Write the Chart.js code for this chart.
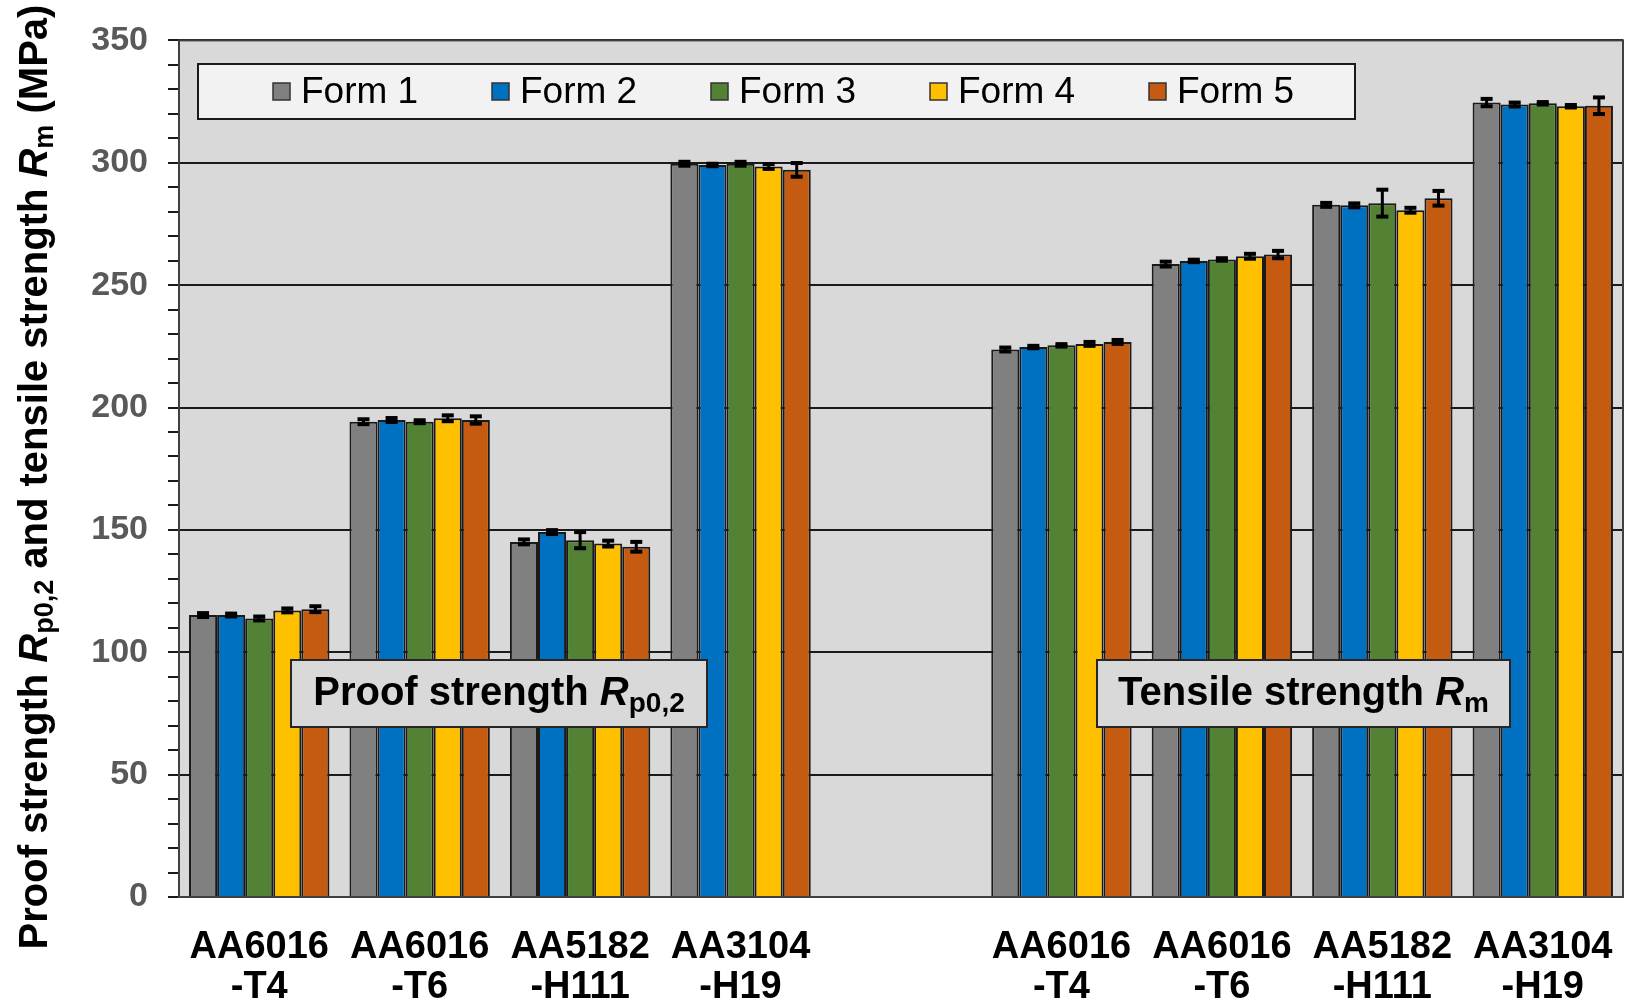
<!DOCTYPE html>
<html>
<head>
<meta charset="utf-8">
<title>Proof and tensile strength</title>
<script src="https://cdn.jsdelivr.net/npm/chart.js@4/dist/chart.umd.min.js"></script>
<style>
  body { margin: 0; background: #fff; }
  #chart-container { width: 1626px; height: 1003px; position: relative; }
</style>
</head>
<body>
<div id="chart-container">
  <canvas id="strength-chart"></canvas>
</div>
<script>
// alloys, proof strength block first, then a blank slot, then tensile strength block
const categories = [
  ['AA6016', '-T4'], ['AA6016', '-T6'], ['AA5182', '-H111'], ['AA3104', '-H19'],
  '',
  ['AA6016', '-T4'], ['AA6016', '-T6'], ['AA5182', '-H111'], ['AA3104', '-H19']
];

const seriesNames = ['Form 1', 'Form 2', 'Form 3', 'Form 4', 'Form 5'];

const form1 = [115.2, 194.2, 145.1, 299.6, null, 223.7, 258.6, 282.8, 324.6];
const form2 = [115.2, 194.9, 149.1, 299.1, null, 224.7, 259.9, 282.6, 323.8];
const form3 = [113.8, 194.2, 145.8, 299.6, null, 225.4, 260.5, 283.5, 324.3];
const form4 = [117.1, 195.6, 144.4, 298.5, null, 226.0, 261.8, 280.6, 323.1];
const form5 = [117.6, 194.9, 143.1, 297.1, null, 226.8, 262.5, 285.5, 323.3];

// standard deviation (+/-) per bar
const form1Err = [0.8, 1.0, 1.0, 0.8, null, 0.8, 1.0, 0.8, 1.5];
const form2Err = [0.6, 0.8, 0.8, 0.5, null, 0.5, 0.5, 0.8, 0.8];
const form3Err = [0.8, 0.6, 3.3, 0.8, null, 0.5, 0.5, 5.5, 0.5];
const form4Err = [0.8, 1.2, 1.2, 1.0, null, 0.8, 1.0, 1.0, 0.5];
const form5Err = [1.2, 1.5, 2.0, 2.8, null, 0.8, 1.5, 3.0, 3.4];

const yTicks = [0, 50, 100, 150, 200, 250, 300, 350];

const colors = ['#808080', '#0070c0', '#548235', '#ffc000', '#c55a11'];
const FONT = '"Liberation Sans", Arial, sans-serif';
const DARK = '#1a1a1a';

const values = [form1, form2, form3, form4, form5];
const errors = [form1Err, form2Err, form3Err, form4Err, form5Err];

// draws a run of text pieces (font, text, vertical shift) starting at x
function drawRich(ctx, parts, x, y) {
  let cx = x;
  parts.forEach(p => {
    ctx.font = p.font;
    ctx.fillText(p.text, cx, y + (p.dy || 0));
    cx += ctx.measureText(p.text).width;
  });
  return cx - x;
}

function richWidth(ctx, parts) {
  let w = 0;
  parts.forEach(p => {
    ctx.font = p.font;
    w += ctx.measureText(p.text).width;
  });
  return w;
}

const plotBackground = {
  id: 'plotBackground',
  beforeDraw(chart) {
    const { ctx, chartArea: a } = chart;
    ctx.save();
    ctx.fillStyle = '#d9d9d9';
    ctx.fillRect(a.left, a.top, a.right - a.left, a.bottom - a.top);
    ctx.restore();
  },
  afterDraw(chart) {
    const { ctx, chartArea: a } = chart;
    ctx.save();
    ctx.strokeStyle = '#404040';
    ctx.lineWidth = 2;
    ctx.strokeRect(a.left, a.top, a.right - a.left, a.bottom - a.top);
    ctx.restore();
  }
};

const errorBars = {
  id: 'errorBars',
  afterDatasetsDraw(chart) {
    const ctx = chart.ctx;
    const y = chart.scales.y;
    ctx.save();
    ctx.fillStyle = '#000';
    chart.data.datasets.forEach((ds, i) => {
      const meta = chart.getDatasetMeta(i);
      meta.data.forEach((bar, j) => {
        const v = ds.data[j];
        const e = errors[i][j];
        if (v == null || e == null) return;
        const top = y.getPixelForValue(v + e);
        const bot = y.getPixelForValue(v - e);
        ctx.fillRect(bar.x - 1.5, top, 3, bot - top);
        ctx.fillRect(bar.x - 6, top - 2, 12, 4);
        ctx.fillRect(bar.x - 6, bot - 2, 12, 4);
      });
    });
    ctx.restore();
  }
};

const annotations = {
  id: 'annotations',
  afterDatasetsDraw(chart) {
    const ctx = chart.ctx;
    ctx.save();

    // legend box
    ctx.fillStyle = '#f2f2f2';
    ctx.fillRect(198, 64, 1157, 55);
    ctx.strokeStyle = DARK;
    ctx.lineWidth = 2;
    ctx.strokeRect(198, 64, 1157, 55);
    ctx.textBaseline = 'middle';
    ctx.textAlign = 'left';
    chart.data.datasets.forEach((ds, i) => {
      const x = 282 + i * 219;
      ctx.fillStyle = ds.backgroundColor;
      ctx.fillRect(x - 9, 83, 17, 17);
      ctx.strokeStyle = '#333';
      ctx.lineWidth = 1.5;
      ctx.strokeRect(x - 9, 83, 17, 17);
      ctx.fillStyle = '#000';
      ctx.font = '37px ' + FONT;
      ctx.fillText(ds.label, x + 19, 93);
    });

    // labels for the two blocks
    const boxes = [
      { x: 291, w: 416, parts: [
        { font: 'bold 40px ' + FONT, text: 'Proof strength ' },
        { font: 'italic bold 40px ' + FONT, text: 'R' },
        { font: 'bold 28px ' + FONT, text: 'p0,2', dy: 10 }
      ] },
      { x: 1097, w: 413, parts: [
        { font: 'bold 40px ' + FONT, text: 'Tensile strength ' },
        { font: 'italic bold 40px ' + FONT, text: 'R' },
        { font: 'bold 28px ' + FONT, text: 'm', dy: 10 }
      ] }
    ];
    boxes.forEach(b => {
      ctx.fillStyle = '#d9d9d9';
      ctx.fillRect(b.x, 660, b.w, 67);
      ctx.strokeStyle = '#262626';
      ctx.lineWidth = 2;
      ctx.strokeRect(b.x, 660, b.w, 67);
      ctx.fillStyle = '#000';
      const w = richWidth(ctx, b.parts);
      drawRich(ctx, b.parts, b.x + (b.w - w) / 2, 694);
    });

    // y axis title
    const title = [
      { font: 'bold 40px ' + FONT, text: 'Proof strength ' },
      { font: 'italic bold 40px ' + FONT, text: 'R' },
      { font: 'bold 27px ' + FONT, text: 'p0,2', dy: 10 },
      { font: 'bold 40px ' + FONT, text: ' and tensile strength ' },
      { font: 'italic bold 40px ' + FONT, text: 'R' },
      { font: 'bold 27px ' + FONT, text: 'm', dy: 10 },
      { font: 'bold 40px ' + FONT, text: ' (MPa)' }
    ];
    ctx.translate(36, 477);
    ctx.rotate(-Math.PI / 2);
    const tw = richWidth(ctx, title);
    drawRich(ctx, title, -tw / 2, 0);

    ctx.restore();
  }
};

const datasets = seriesNames.map((name, i) => ({
  label: name,
  data: values[i],
  backgroundColor: colors[i],
  borderColor: DARK,
  borderWidth: 2,
  borderSkipped: 'bottom'
}));

new Chart(document.getElementById('strength-chart'), {
  type: 'bar',
  data: { labels: categories, datasets: datasets },
  plugins: [plotBackground, errorBars, annotations],
  options: {
    responsive: true,
    maintainAspectRatio: false,
    animation: false,
    datasets: { bar: { categoryPercentage: 0.875, barPercentage: 1.0 } },
    layout: { padding: { top: 38, right: 3, left: 0, bottom: 0 } },
    plugins: {
      legend: { display: false },
      tooltip: { enabled: false }
    },
    scales: {
      x: {
        grid: { display: false, drawTicks: false },
        border: { display: true, color: DARK, width: 2 },
        ticks: {
          color: '#000',
          font: { family: FONT, size: 38, weight: 'bold', lineHeight: 1.04 },
          padding: 31,
          maxRotation: 0,
          autoSkip: false
        },
        afterFit(scale) {
          scale.height = 106;
          // labels may overhang the plot edges, keep the plot full width
          scale.paddingLeft = 0;
          scale.paddingRight = 0;
        }
      },
      y: {
        min: yTicks[0],
        max: yTicks[yTicks.length - 1],
        grid: {
          color: ctx => (ctx.tick && yTicks.includes(ctx.tick.value)) ? DARK : 'rgba(0,0,0,0)',
          tickColor: DARK,
          lineWidth: 2,
          tickLength: 11
        },
        border: { display: true, color: DARK, width: 2 },
        ticks: {
          stepSize: 10,
          autoSkip: false,
          color: '#595959',
          font: { family: FONT, size: 34, weight: 'bold' },
          padding: 20,
          callback: v => yTicks.includes(v) ? String(v) : ''
        },
        afterFit(scale) { scale.width = 179; }
      }
    }
  }
});
</script>
</body>
</html>
